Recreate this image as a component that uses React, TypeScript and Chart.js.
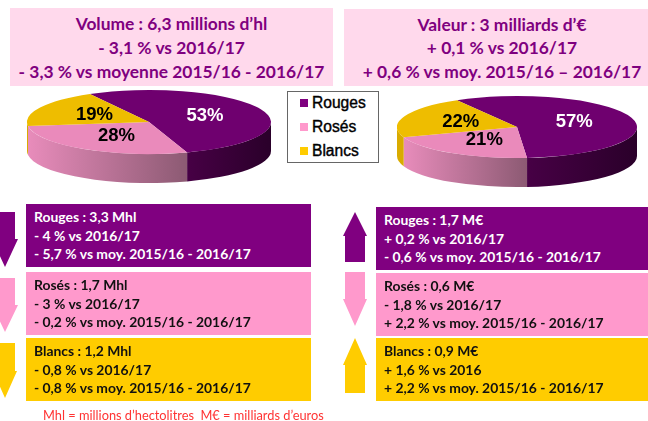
import React, { useEffect, useRef } from "react";
import { Chart, registerables } from "chart.js";

Chart.register(...registerables);

const categories = ["Rouges", "Rosés", "Blancs"];
const volumeShares = [53, 28, 19];
const valueShares = [57, 21, 22];

const faceColors = ["#6f006f", "#ea8abb", "#eebd00"];
const legendColors = ["#7f007f", "#ff99cc", "#ffcc00"];
const sideGradients = [
  ["#470045", "#2a002a"],
  ["#e88cbb", "#8c5a73"],
  ["#d9ab00", "#d9ab00"],
];
const labelColors = ["#ffffff", "#000000", "#000000"];

const volumeHeader = ["Volume : 6,3 millions d’hl", "- 3,1 % vs 2016/17", "- 3,3 % vs moyenne 2015/16 - 2016/17"];
const valueHeader = ["Valeur : 3 milliards d’€", "+ 0,1 % vs 2016/17", "+ 0,6 % vs moy. 2015/16 – 2016/17"];

const volumeDetails = [
  ["Rouges : 3,3 Mhl", "- 4 % vs 2016/17", "- 5,7 % vs moy. 2015/16 - 2016/17"],
  ["Rosés : 1,7 Mhl", "- 3 % vs 2016/17", "- 0,2 % vs moy. 2015/16 - 2016/17"],
  ["Blancs : 1,2 Mhl", "- 0,8 % vs 2016/17", "- 0,8 % vs moy. 2015/16 - 2016/17"],
];
const valueDetails = [
  ["Rouges : 1,7 M€", "+ 0,2 % vs 2016/17", "- 0,6 % vs moy. 2015/16 - 2016/17"],
  ["Rosés : 0,6 M€", "- 1,8 % vs 2016/17", "+ 2,2 % vs moy. 2015/16 - 2016/17"],
  ["Blancs : 0,9 M€", "+ 1,6 % vs 2016", "+ 2,2 % vs moy. 2015/16 - 2016/17"],
];
const footnote = "Mhl = millions d’hectolitres\u00a0\u00a0M€ = milliards d’euros";

const TEXT_FONT = "Lato, 'Open Sans', sans-serif";
const CHART_FONT = "'Liberation Sans', Arial, sans-serif";

function pie3dPlugin(ry: number, depth: number) {
  return {
    id: "pie3d",
    beforeDatasetsDraw(chart: any) {
      const ctx = chart.ctx;
      const arcs = chart.getDatasetMeta(0).data;
      arcs.forEach((arc: any, i: number) => {
        const { x, y, startAngle, endAngle, outerRadius: r } = arc;
        const k = ry / r;
        for (let t = -2; t <= 2; t++) {
          const a = Math.max(startAngle, 2 * Math.PI * t);
          const b = Math.min(endAngle, Math.PI + 2 * Math.PI * t);
          if (b <= a) continue;
          const xa = x + r * Math.cos(a);
          const xb = x + r * Math.cos(b);
          const g = ctx.createLinearGradient(Math.min(xa, xb), 0, Math.max(xa, xb), 0);
          g.addColorStop(0, sideGradients[i][0]);
          g.addColorStop(1, sideGradients[i][1]);
          ctx.beginPath();
          ctx.ellipse(x, y, r, r * k, 0, a, b, false);
          ctx.ellipse(x, y + depth, r, r * k, 0, b, a, true);
          ctx.closePath();
          ctx.fillStyle = g;
          ctx.fill();
        }
      });
      const first = arcs[0];
      ctx.save();
      ctx.translate(first.x, first.y);
      ctx.scale(1, ry / first.outerRadius);
      ctx.translate(-first.x, -first.y);
    },
    afterDatasetsDraw(chart: any) {
      const ctx = chart.ctx;
      ctx.restore();
      const arcs = chart.getDatasetMeta(0).data;
      const values = chart.data.datasets[0].data;
      ctx.save();
      ctx.font = `bold 18.5px ${CHART_FONT}`;
      ctx.textAlign = "center";
      ctx.textBaseline = "middle";
      arcs.forEach((arc: any, i: number) => {
        const mid = (arc.startAngle + arc.endAngle) / 2;
        const r = arc.outerRadius * 0.5;
        ctx.fillStyle = labelColors[i];
        ctx.fillText(`${values[i]}%`, arc.x + r * Math.cos(mid), arc.y + r * (ry / arc.outerRadius) * Math.sin(mid));
      });
      ctx.restore();
    },
  };
}

function Pie3D(props: { values: number[]; rotation: number; ry: number; depth: number; left: number; top: number; size: number }) {
  const ref = useRef<HTMLCanvasElement>(null);
  const { values, rotation, ry, depth, left, top, size } = props;
  useEffect(() => {
    const chart = new Chart(ref.current!, {
      type: "pie",
      data: {
        labels: categories,
        datasets: [{ data: values, backgroundColor: faceColors, borderWidth: 0 }],
      },
      options: {
        responsive: false,
        animation: false,
        rotation,
        layout: { padding: 0 },
        events: [],
        plugins: { legend: { display: false }, tooltip: { enabled: false } },
      },
      plugins: [pie3dPlugin(ry, depth)],
    } as any);
    return () => chart.destroy();
  }, []);
  return <canvas ref={ref} width={size} height={size} style={{ position: "absolute", left, top, width: size, height: size }} />;
}

function Header(props: { lines: string[]; left: number; top: number; width: number; height: number; ys: number[]; centerX: number }) {
  const { lines, left, top, width, height, ys, centerX } = props;
  return (
    <div style={{ position: "absolute", left, top, width, height, background: "#ffd9ec" }}>
      {lines.map((l, i) => (
        <div key={i} style={{ position: "absolute", left: centerX - left - 200, width: 400, top: ys[i] - top - 12, height: 24, lineHeight: "24px", textAlign: "center", whiteSpace: "nowrap", color: "#7f007f", fontFamily: TEXT_FONT, fontWeight: 700, fontSize: 17.4 }}>
          {l}
        </div>
      ))}
    </div>
  );
}

function Box(props: { lines: string[]; left: number; top: number; width: number; height: number; color: string; textColor: string; textX: number }) {
  const { lines, left, top, width, height, color, textColor, textX } = props;
  return (
    <div style={{ position: "absolute", left, top, width, height, background: color }}>
      {lines.map((l, i) => (
        <div key={i} style={{ position: "absolute", left: textX - left, top: 3 + i * 18.7, height: 20, lineHeight: "20px", whiteSpace: "nowrap", color: textColor, fontFamily: TEXT_FONT, fontWeight: 700, fontSize: 13.9 }}>
          {l}
        </div>
      ))}
    </div>
  );
}

function Arrow(props: { cx: number; yTop: number; yHead: number; yEnd: number; shaft: number; head: number; color: string; up: boolean }) {
  const { cx, yTop, yHead, yEnd, shaft, head, color, up } = props;
  const pts = up
    ? [[cx, yTop], [cx + head, yHead], [cx + shaft, yHead], [cx + shaft, yEnd], [cx - shaft, yEnd], [cx - shaft, yHead], [cx - head, yHead]]
    : [[cx - shaft, yTop], [cx + shaft, yTop], [cx + shaft, yHead], [cx + head, yHead], [cx, yEnd], [cx - head, yHead], [cx - shaft, yHead]];
  return <polygon points={pts.map((p) => p.join(",")).join(" ")} fill={color} />;
}

const boxColors = ["#800080", "#ff99cc", "#ffcc00"];
const boxText = ["#ffffff", "#111111", "#111111"];
const leftTops = [204, 272, 338];
const rightTops = [207, 273, 338];
const legendTops = [103, 127, 151];

export default function App() {
  return (
    <div style={{ position: "fixed", left: 0, top: 0, width: 648, height: 421, overflow: "hidden", background: "#fff" }}>
      <Header lines={volumeHeader} left={10} top={8} width={323} height={78} ys={[24, 48, 72]} centerX={171.5} />
      <Header lines={valueHeader} left={344} top={9} width={304} height={77} ys={[25, 48, 72]} centerX={502} />
      <Pie3D values={volumeShares} rotation={-29} ry={32} depth={29} left={27} top={0} size={244} />
      <Pie3D values={valueShares} rotation={-30} ry={31} depth={29} left={397} top={7} size={240} />

      <div style={{ position: "absolute", left: 287, top: 91, width: 90, height: 70, border: "1.5px solid #666", background: "#fff" }} />
      {categories.map((c, i) => (
        <React.Fragment key={c}>
          <div style={{ position: "absolute", left: 300, top: legendTops[i] - 4, width: 8, height: 8, background: legendColors[i] }} />
          <div style={{ position: "absolute", left: 312, top: legendTops[i] - 10, height: 20, lineHeight: "20px", fontFamily: CHART_FONT, fontSize: 15.6, WebkitTextStroke: "0.4px #000", color: "#000" }}>{c}</div>
        </React.Fragment>
      ))}

      {volumeDetails.map((lines, i) => (
        <Box key={i} lines={lines} left={26} top={leftTops[i]} width={285} height={63} color={boxColors[i]} textColor={boxText[i]} textX={34} />
      ))}
      {valueDetails.map((lines, i) => (
        <Box key={i} lines={lines} left={376} top={rightTops[i]} width={272} height={63} color={boxColors[i]} textColor={boxText[i]} textX={384} />
      ))}

      <svg width={648} height={421} style={{ position: "absolute", left: 0, top: 0 }}>
        <Arrow cx={5} yTop={212} yHead={239} yEnd={267} shaft={10} head={13} color={boxColors[0]} up={false} />
        <Arrow cx={5} yTop={278} yHead={305} yEnd={332} shaft={10} head={13} color={boxColors[1]} up={false} />
        <Arrow cx={5} yTop={343} yHead={371} yEnd={398} shaft={10} head={12} color={boxColors[2]} up={false} />
        <Arrow cx={355} yTop={212} yHead={236} yEnd={262} shaft={10} head={12} color={boxColors[0]} up />
        <Arrow cx={355} yTop={272} yHead={299} yEnd={326} shaft={10} head={12} color={boxColors[1]} up={false} />
        <Arrow cx={355} yTop={338} yHead={365} yEnd={393} shaft={10} head={12} color={boxColors[2]} up />
      </svg>

      <div style={{ position: "absolute", left: 43, top: 405, height: 20, lineHeight: "20px", whiteSpace: "nowrap", color: "#ff3333", fontFamily: TEXT_FONT, fontSize: 12.8 }}>{footnote}</div>
    </div>
  );
}
